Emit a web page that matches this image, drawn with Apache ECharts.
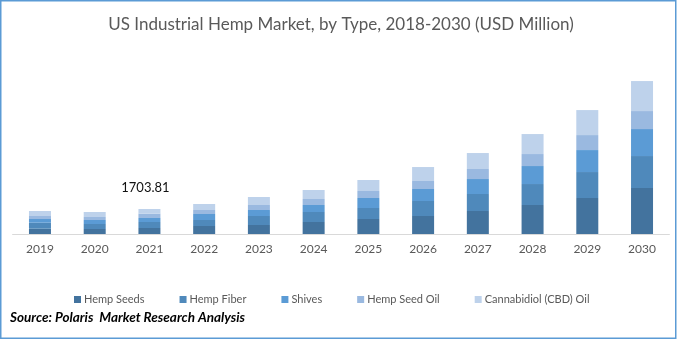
<!DOCTYPE html>
<html>
<head>
<meta charset="utf-8">
<script src="https://cdn.jsdelivr.net/npm/echarts@6/dist/echarts.min.js"></script>
<style>html,body{margin:0;padding:0;background:#fff}#c{width:682px;height:340px}</style>
</head>
<body>
<div id="c"></div>
<script>
const categories = ['2019','2020','2021','2022','2023','2024','2025','2026','2027','2028','2029','2030'];
const hempSeeds   = [361, 341, 409.2, 545, 613, 818, 1022, 1227, 1567, 1976, 2453, 3135];
const hempFiber   = [409, 341, 408.9, 409, 613, 682, 750, 1022, 1159, 1431, 1772, 2181];
const shives      = [252, 273, 272.6, 409, 409, 477, 682, 818, 1022, 1227, 1499, 1840];
const hempSeedOil = [204, 204, 293.0, 273, 341, 409, 477, 545, 682, 818, 1022, 1227];
const cbdOil      = [341, 341, 320.11, 409, 545, 613, 750, 954, 1090, 1363, 1704, 2045];
const labelledIndex = 2;

const seriesNames = ['Hemp Seeds','Hemp Fiber','Shives','Hemp Seed Oil','Cannabidiol (CBD) Oil'];
const seriesData = [hempSeeds, hempFiber, shives, hempSeedOil, cbdOil];
const colors = ['#43739E','#4F89BB','#5B9BD5','#9AB9E0','#BED2EB'];
const FONT = 'Lato';

const chart = echarts.init(document.getElementById('c'));
const series = seriesNames.map((name, si) => ({
  name, type: 'bar', stack: 'total', barWidth: 22,
  itemStyle: { color: colors[si] },
  emphasis: { disabled: true },
  data: seriesData[si].map((v, i) => {
    if (si === seriesData.length - 1 && i === labelledIndex) {
      const total = seriesData.reduce((s, arr) => s + arr[i], 0);
      return { value: v, label: { show: true, position: 'top', distance: 15, offset: [-4, 0],
        formatter: total.toFixed(2), fontSize: 13, color: '#111', fontFamily: FONT } };
    }
    return v;
  })
}));

chart.setOption({
  animation: false,
  title: { text: 'US Industrial Hemp Market, by Type, 2018-2030 (USD Million)', left: 'center', top: 11,
    textStyle: { fontSize: 17, fontWeight: 'normal', color: '#595959', fontFamily: FONT } },
  legend: { left: 69, top: 289, itemWidth: 7, itemHeight: 7, itemGap: 35, icon: 'rect',
    textStyle: { fontSize: 11, color: '#595959', fontFamily: FONT, padding: [0,0,0,-2] },
    data: seriesNames },
  grid: { left: 12.6, right: 12.6, top: 58, bottom: 106 },
  xAxis: { type: 'category', data: categories,
    axisLine: { lineStyle: { color: '#D9D9D9', width: 1 } }, axisTick: { show: false },
    axisLabel: { fontSize: 12, color: '#595959', margin: 9, fontFamily: FONT } },
  yAxis: { type: 'value', min: 0, max: 12000, show: false, splitLine: { show: false } },
  graphic: [
    { type: 'rect', shape: { x: 0.75, y: 0.75, width: 675, height: 337.5 },
      style: { fill: 'none', stroke: '#5B9BD5', lineWidth: 1.5 }, silent: true },
    { type: 'text', left: 10, top: 311, style: { text: 'Source: Polaris  Market Research Analysis',
      font: 'italic bold 13.5px ' + FONT, fill: '#000' } }
  ],
  series
});
</script>
</body>
</html>
